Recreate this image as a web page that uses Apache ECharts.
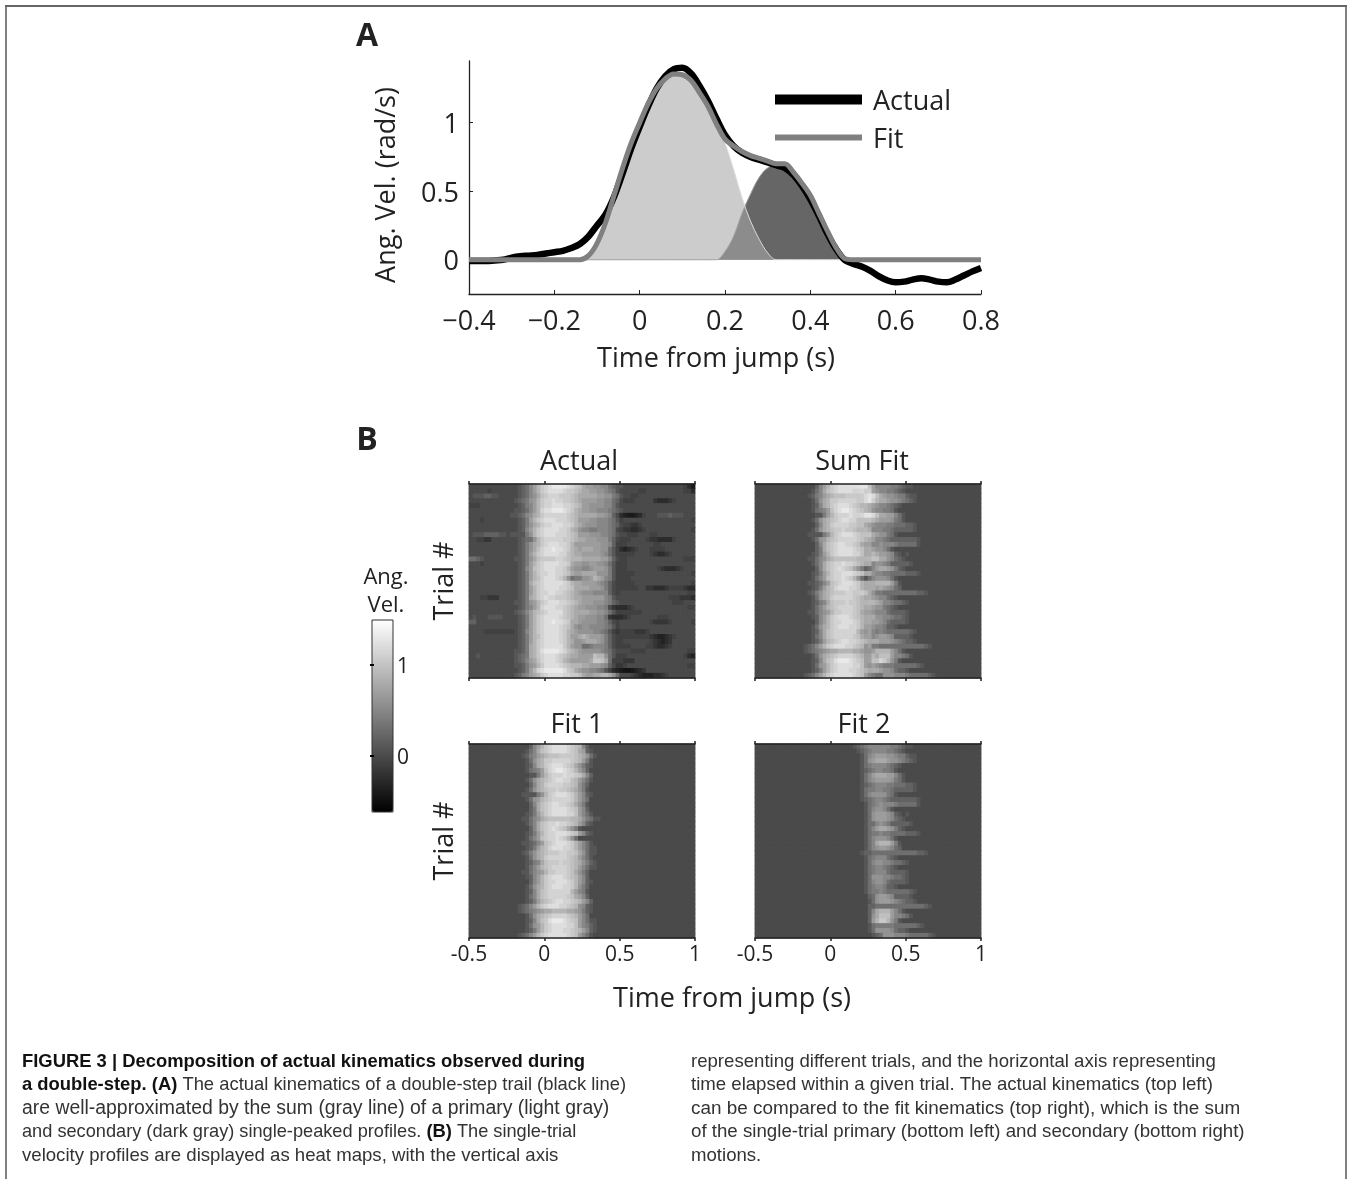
<!DOCTYPE html>
<html><head><meta charset="utf-8">
<style>html,body{margin:0;padding:0;background:#fff}#c{width:1348px;height:1179px}</style>
<script src="https://cdn.jsdelivr.net/npm/echarts@6/dist/echarts.min.js"></script>
</head><body><div id="c"></div>
<script>
const timePoints=[-0.40,-0.38,-0.36,-0.34,-0.32,-0.30,-0.28,-0.26,-0.24,-0.22,-0.20,-0.18,-0.16,-0.14,-0.12,-0.10,-0.08,-0.06,-0.04,-0.02,0,0.02,0.04,0.06,0.08,0.10,0.12,0.14,0.16,0.18,0.20,0.22,0.24,0.26,0.28,0.30,0.32,0.34,0.36,0.38,0.40,0.42,0.44,0.46,0.48,0.50,0.52,0.54,0.56,0.58,0.60,0.62,0.64,0.66,0.68,0.70,0.72,0.74,0.76,0.78,0.80];
const actualCurve=[-0.01,-0.01,-0.01,-0.005,0,0.015,0.025,0.03,0.035,0.045,0.055,0.065,0.085,0.115,0.17,0.25,0.33,0.46,0.63,0.81,0.97,1.12,1.25,1.34,1.39,1.40,1.36,1.27,1.16,1.03,0.91,0.83,0.78,0.75,0.73,0.71,0.69,0.67,0.62,0.54,0.44,0.32,0.19,0.08,0,-0.03,-0.05,-0.08,-0.12,-0.15,-0.165,-0.16,-0.145,-0.135,-0.145,-0.16,-0.165,-0.145,-0.115,-0.085,-0.06];
const fitCurve=[0,0,0,0,0,0,0,0,0,0,0,0,0,0,0.03,0.12,0.27,0.47,0.67,0.85,1.0,1.14,1.25,1.32,1.355,1.35,1.31,1.22,1.12,0.99,0.88,0.83,0.79,0.76,0.74,0.72,0.70,0.70,0.64,0.56,0.47,0.34,0.21,0.09,0.01,0,0,0,0,0,0,0,0,0,0,0,0,0,0,0,0];
const primaryCurve=[0,0,0,0,0,0,0,0,0,0,0,0,0,0,0.03,0.12,0.27,0.47,0.67,0.85,1.0,1.14,1.25,1.32,1.355,1.35,1.31,1.22,1.12,0.99,0.85,0.66,0.45,0.28,0.15,0.05,0,0,0,0,0,0,0,0,0,0,0,0,0,0,0,0,0,0,0,0,0,0,0,0,0];
const secondaryCurve=[0,0,0,0,0,0,0,0,0,0,0,0,0,0,0,0,0,0,0,0,0,0,0,0,0,0,0,0,0,0,0.06,0.17,0.34,0.48,0.60,0.67,0.69,0.695,0.64,0.56,0.47,0.34,0.21,0.09,0.01,0,0,0,0,0,0,0,0,0,0,0,0,0,0,0,0];
const heatBins=['-0.5','-0.475','-0.45','-0.425','-0.4','-0.375','-0.35','-0.325','-0.3','-0.275','-0.25','-0.225','-0.2','-0.175','-0.15','-0.125','-0.1','-0.075','-0.05','-0.025','0','0.025','0.05','0.075','0.1','0.125','0.15','0.175','0.2','0.225','0.25','0.275','0.3','0.325','0.35','0.375','0.4','0.425','0.45','0.475','0.5','0.525','0.55','0.575','0.6','0.625','0.65','0.675','0.7','0.725','0.75','0.775','0.8','0.825','0.85','0.875','0.9','0.925','0.95','0.975'];
const levelCodes='0123456789abcdefghijk';
const levelValues=[-0.45,-0.4,-0.33,-0.25,-0.17,-0.08,0,0.1,0.2,0.3,0.4,0.5,0.6,0.68,0.78,0.88,0.97,1.05,1.13,1.22,1.32];
const actualRows=[
"6666666666 666789bdfh ijkkkkjihg eddccbb987 7666666666 6666666531",
"6666656666 666789bdfh ijjjjihhgf eeddccba97 6666655666 6666666553",
"6777887766 666789bceg hiiihhhgfe eeeeddcca9 7665566666 6666666666",
"6666666666 66789acdfh iijiihhgfe ddddccbb98 6555666664 3334566666",
"5556666666 66678abdfh iijjjiihgf ddccccbb97 6666666666 6666666666",
"6666666666 667789bdfi jjkkkjihfe ddccbbba98 7666666666 6666666666",
"6666666666 67789bcefh iiiiiihgfe eeeeddcb86 3211235666 7778777666",
"6665666666 66678adfhi jjjiiihgfd ddccbbba97 5666666666 6666666665",
"6666666666 66678acefh iijjjiihfe dcccbbba98 6554456666 6666666666",
"6666666666 66678bdfhi jjjjiihfec bbaabbba96 5443345666 6666666665",
"6777888877 67777acfhi jjjiiihgfd ddcccbba97 6655566655 6666666666",
"6655446666 6667899cfh iiiiihhgfe edddccca86 5556666544 3333566666",
"6666666666 66678acefh ijjjiihfdd dddddccb85 5566666665 5666666666",
"6666666666 66678acegi jjkjjihfed eeeddcc975 3234566655 5566666666",
"6666666666 66678adfhi jjjjiigfee dddddcb975 5555666654 3345666666",
"9987666666 66778acegh hhhiihgfff eeeeeddb86 5566666666 6666666555",
"6665666666 66678adfhi jjjjiihedd ccddccb975 5566666666 6666666666",
"6666666666 66678bdghi jjjiihfdcc bbcdddca75 5566666666 5433345666",
"6666666666 66678adfhi ijjiihgedd eeeeccca75 5555666666 6666666665",
"6666666666 66678adfgi jjjihfc9aa ccdfedba75 5556666666 6666666666",
"6666666666 66678aeghi jjjjjihfee ddddcba865 5555666666 6666666665",
"6666666666 66678adfhi jjjjiihgee eedddca865 5555566443 3345555433",
"6666666666 66678adfhi ijjiihgfed cccbbbb865 6666666666 6666666655",
"6665544466 66678aefhi jiihhhgfee ddddddba76 6666666666 6665554443",
"6666666666 66778acdfh ijjjiihgfe dddcccba87 6666666666 6666555666",
"6666666666 66678abdfi jjjiihgfed dcccbba643 3345666666 6666666655",
"6666666666 66789bdfgh ijjjjhgfee eeddccb975 5555556666 6666666666",
"6766677776 66678adfhi jjjjihgfed dcccbb9433 3456666666 5556666666",
"8866666666 66678adfhi jjkjjiheed ccccbba865 6666666654 4445666665",
"6666666666 66678adfhi jjjjihgecb ccbbbba975 6666666666 6666666666",
"6666555555 55678bdfhi jjjjihfedc cccbba9754 5555444566 6666666666",
"6666666666 66678adfgi jjjjihfdde fedddca865 5555555543 2234566666",
"6666666666 66678adfhi jjjjihfecc deeedca865 5666666654 3234666666",
"6666666666 66678aefhi jjjjjhfdcc 99abbba865 5556666554 3345666666",
"6666666666 66778aefhj kkkkjigfed cccccba976 6665555666 6666666655",
"6676666666 66789aefhi jjjihgfeed dddgffc975 5566666666 6666666532",
"6666666666 66789bdegi jjjihfeddd ddehhge955 5444666666 6666666666",
"6666666666 66778acdfh jjjjihgfff eedddcb864 4566666666 6666666655",
"6666666666 66678adfij kkkkkjhged ccbba97532 1001234666 6666666666",
"6666666666 6678abdefh ijjjjiihhg eddeeffec9 6665432223 3456666666"
];
const fit1Start=12;
const fit1Rows=["66668bdfhijjjjihgfb8666","66679beghijjjjihged8766","6678abdefggghhhhgfec976","66679cefhhiiiiihgfda766","66678befhijjjihgeca8766","66679abdgijkkjihfdb8666","666677adfhiiijiihgeb866","66679cefghijjiigfdb9766","66668befhiiiihhgfca8666","66679cefghhihhgfeca7666","667777acfhijjjihfdb8766","66679cdfghiiiiihfdb9666","66668beghijjiihgeca7666","66668aeghijjjjihgdb8666","66678adfhijjjjiigdb9766","66779bcefggggggffeca977","66679beghiijiihgfdb8766","66668beghijihgeca766666","66678adfhiijjjihgdb8766","66679bdghiijihfc9666666","667789bdghijjjihfdb9766","66678adfgijjjiihfdb9776","6678acefghhhiihhgec9776","66679cefhiiiiihgfdb9766","66678abeghhhihhgfeca876","66679bdfghiiiihgfdb9776","66779bcdfhhiiihgeca8666","66678bdfhijjjihgfdb8666","66668bdfhiijjjihfdb8766","66679cefhijjjiihfca8666","66678beghiiiiiifdba7666","66679beghiiiiihgedb8666","66678adfghijjiihgfdb866","6789bdfhijjjiihgfcb8766","6789abcdeeffffeedca8766","66679cefghiiiihgfdb9666","66678beghjkkkjihgdb9776","66679cdfhijjjjiigdba876","66678adfhijjjiihgfdb876","6789bdfhijjjjjihgdb9766"];
const fit2Start=25;
const fit2Rows=[
"6789 abbb bbba a987 7666 6666 666","6678 9abb bbaa 9876 6666 6666 666","6667 9bcd ddcc baa8 7766 6666 666","6667 9cde eedc cba9 8766 6666 666","6667 9abb bba9 8766 6666 6666 666",
"6667 89ab baa9 7666 6666 6666 666","6667 9bde eedd b976 6666 6666 666","6667 9bcd dddc a976 6666 6666 666","6667 89ab bbaa 9998 8766 6666 666","6667 9aab baa9 8888 8766 6666 666",
"6667 9bcc cca9 7666 6666 6666 666","6667 89ab ba98 8888 8876 6666 666","6666 79ab cbbb a999 9976 6666 666","6666 79bc cb97 6666 6666 6666 666","6666 79cd ddcb 8767 6666 6666 666",
"6666 79cd ddcb 9876 6666 6666 666","6666 799b cba8 8888 7666 6666 666","6666 79bd eedc a876 6666 6666 666","6666 79aa baa9 9998 8876 6666 666","6666 79bc ccb9 7666 6666 6666 666",
"6666 79be fffd a766 6666 6666 666","6666 79bc ddcb 9866 6666 6666 666","6667 8899 9999 9999 9988 7666 666","6666 79ab bb98 7666 6666 6666 666","6666 79bc cbba 9987 6666 6666 666",
"6666 79ab ba98 7666 6666 6666 666","6666 79ab bb98 8887 6666 6666 666","6666 79cc cbba 9987 6666 6666 666","6666 79bc cb98 8887 6666 6666 666","6666 79ab ba88 7666 6666 6666 666",
"6666 79aa ba99 9999 8766 6666 666","6666 689c ddcb 8888 7666 6666 666","6666 679c dddc ba98 8766 6666 666","6666 6889 9999 9999 9999 8766 666","6666 68be fffd b976 6666 6666 666",
"6666 68ce gggd bba9 7666 6666 666","6666 68df hhfc a766 6666 6666 666","6666 679a aaaa 9999 9987 6666 666","6666 679c cccb 9887 6666 6666 666","6666 6678 9ccc bbba 9999 9876 666"];

function decode(s){return Array.from(s.replace(/\s+/g,'')).map(c=>levelValues[levelCodes.indexOf(c)]);}
function expand(rows,start){return rows.map(r=>{const out=new Array(heatBins.length).fill(0);decode(r).forEach((v,i)=>{if(start+i<out.length)out[start+i]=v;});return out;});}
const actualGrid=expand(actualRows,0);
const fit1Grid=expand(fit1Rows,fit1Start);
const fit2Grid=expand(fit2Rows,fit2Start);
const sumGrid=fit1Grid.map((r,i)=>r.map((v,j)=>+(v+fit2Grid[i][j]).toFixed(2)));
const trialLabels=actualRows.map((_,i)=>String(i+1));
function cells(g){const o=[];g.forEach((r,y)=>r.forEach((v,x)=>o.push([x,y,v])));return o;}

const FONT='"Open Sans"';
const INK='#222';
const panels=[{l:469,t:484,n:'Actual',g:actualGrid,lab:false,tr:true},{l:755,t:484,n:'Sum Fit',g:sumGrid,lab:false,tr:false},{l:469,t:744,n:'Fit 1',g:fit1Grid,lab:true,tr:true},{l:755,t:744,n:'Fit 2',g:fit2Grid,lab:true,tr:false}];
const PW=226,PH=194;
const grid=[{left:469,top:61,width:512,height:233}];
const xAxis=[{gridIndex:0,type:'value',min:-0.4,max:0.8,interval:0.2,splitLine:{show:false},
 axisLine:{onZero:false,lineStyle:{color:INK,width:1.3}},axisTick:{inside:true,length:4,lineStyle:{color:INK}},
 axisLabel:{margin:15,color:INK,fontFamily:FONT,fontSize:27,showMinLabel:true,showMaxLabel:true,formatter:v=>String(+v.toFixed(1)).replace('-','\u2212')},
 name:'Time from jump (s)',nameLocation:'middle',nameGap:52,nameTextStyle:{color:INK,fontFamily:FONT,fontSize:27,padding:[0,18,0,0]}}];
const yAxis=[{gridIndex:0,type:'value',min:-0.25,max:1.45,splitLine:{show:false},
 axisLine:{show:true,onZero:false,lineStyle:{color:INK,width:1.3}},axisTick:{show:true,inside:true,length:4,customValues:[0,0.5,1],lineStyle:{color:INK}},
 axisLabel:{margin:10,color:INK,fontFamily:FONT,fontSize:27,verticalAlign:'top',lineHeight:6,customValues:[0,0.5,1],formatter:v=>String(v)},
 name:'Ang. Vel. (rad/s)',nameLocation:'middle',nameGap:68,nameTextStyle:{color:INK,fontFamily:FONT,fontSize:27,padding:[0,15,0,0]}}];
const series=[
 {name:'Secondary',type:'line',xAxisIndex:0,yAxisIndex:0,showSymbol:false,smooth:0.35,z:1,data:timePoints.map((t,i)=>[t,secondaryCurve[i]]),lineStyle:{color:'#999',width:1},itemStyle:{color:'#666'},areaStyle:{color:'#666666',opacity:1}},
 {name:'Primary',type:'line',xAxisIndex:0,yAxisIndex:0,showSymbol:false,smooth:0.35,z:2,data:timePoints.map((t,i)=>[t,primaryCurve[i]]),lineStyle:{color:'#dcdcdc',width:1},itemStyle:{color:'#ccc'},areaStyle:{color:'#a7a7a7',opacity:0.58}},
 {name:'Actual',type:'line',xAxisIndex:0,yAxisIndex:0,showSymbol:false,smooth:0.35,z:3,data:timePoints.map((t,i)=>[t,actualCurve[i]]),lineStyle:{color:'#000',width:6.5},itemStyle:{color:'#000'}},
 {name:'Fit',type:'line',xAxisIndex:0,yAxisIndex:0,showSymbol:false,smooth:0.35,z:4,data:timePoints.map((t,i)=>[t,fitCurve[i]]),lineStyle:{color:'#808080',width:5},itemStyle:{color:'#808080'}}
];
const heatSeriesIdx=[];
panels.forEach((p,i)=>{
 grid.push({left:p.l,top:p.t,width:PW,height:PH});
 xAxis.push({gridIndex:i+1,type:'category',data:heatBins,show:false});
 yAxis.push({gridIndex:i+1,type:'category',data:trialLabels,inverse:true,show:false});
 // second pass closes the hairline seams that fractional cell edges leave on the canvas
 [0,1].forEach(()=>{
  heatSeriesIdx.push(series.length);
  series.push({name:p.n,type:'heatmap',xAxisIndex:i+1,yAxisIndex:i+1,data:cells(p.g),progressive:0,emphasis:{disabled:true}});
 });
});
panels.forEach((p,i)=>{
 grid.push({left:p.l,top:p.t,width:PW,height:PH,z:3});
 const gi=5+i;
 xAxis.push({gridIndex:gi,type:'value',position:'bottom',min:-0.5,max:1,interval:0.5,z:5,splitLine:{show:false},
  axisLine:{onZero:false,lineStyle:{color:INK,width:1.5}},axisTick:{length:3,lineStyle:{color:INK,width:1.5}},
  axisLabel:{show:p.lab,margin:7,color:INK,fontFamily:FONT,fontSize:21,showMinLabel:true,showMaxLabel:true,formatter:v=>String(v)}});
 yAxis.push({gridIndex:gi,type:'value',min:0,max:1,show:p.tr,axisLine:{show:false},axisTick:{show:false},axisLabel:{show:false},splitLine:{show:false},
  name:p.tr?'Trial #':'',nameLocation:'middle',nameGap:10,nameTextStyle:{color:INK,fontFamily:FONT,fontSize:27}});
});
panels.forEach((p,i)=>{
 xAxis.push({gridIndex:5+i,type:'value',position:'top',min:-0.5,max:1,interval:0.5,z:5,splitLine:{show:false},
  axisLine:{onZero:false,lineStyle:{color:INK,width:1.5}},axisTick:{length:3,lineStyle:{color:INK,width:1.5}},axisLabel:{show:false}});
});
const cbMin=-0.615,cbMax=1.495;
grid.push({left:372,top:620,width:21,height:192,z:6,show:true,borderColor:'#333',borderWidth:1,backgroundColor:'transparent'});
xAxis.push({gridIndex:9,type:'value',min:0,max:1,show:false,z:7});
const cbTicks=[0,1];
yAxis.push({gridIndex:9,type:'value',position:'right',min:cbMin,max:cbMax,z:7,splitLine:{show:false},axisLine:{show:false},
 axisTick:{show:true,inside:true,length:2,customValues:cbTicks,lineStyle:{color:'#000',width:2}},
 axisLabel:{margin:4,color:INK,fontFamily:FONT,fontSize:21,verticalAlign:'top',lineHeight:4,customValues:cbTicks,formatter:v=>String(v)}});
yAxis.push({gridIndex:9,type:'value',position:'left',min:cbMin,max:cbMax,z:7,splitLine:{show:false},axisLine:{show:false},
 axisTick:{show:true,inside:true,length:2,customValues:cbTicks,lineStyle:{color:'#000',width:2}},axisLabel:{show:false}});

const txt=(text,x,y,size,weight)=>({text,left:x,top:y,padding:0,textAlign:'center',textVerticalAlign:'middle',textStyle:{color:INK,fontFamily:FONT,fontSize:size,fontWeight:weight||'normal'}});
const title=[txt('A',367,37,32,'bold'),txt('B',367,441,32,'bold'),txt('Actual',579,462,27),txt('Sum Fit',862,462,27),txt('Fit 1',577,725,27),txt('Fit 2',864,725,27),txt('Time from jump (s)',732,999,27),txt('Ang.',386,578,22),txt('Vel.',386,606,22)];

const captionLeft=[
 {t:'{b|FIGURE 3 | Decomposition of actual kinematics observed during}',s:18.6},
 {t:'{b|a double-step. (A)} The actual kinematics of a double-step trail (black line)',s:18.4},
 {t:'are well-approximated by the sum (gray line) of a primary (light gray)',s:19.4},
 {t:'and secondary (dark gray) single-peaked profiles. {b|(B)} The single-trial',s:18.2},
 {t:'velocity profiles are displayed as heat maps, with the vertical axis',s:18.6}];
const captionRight=[
 {t:'representing different trials, and the horizontal axis representing',s:18.6},
 {t:'time elapsed within a given trial. The actual kinematics (top left)',s:18.6},
 {t:'can be compared to the fit kinematics (top right), which is the sum',s:18.9},
 {t:'of the single-trial primary (bottom left) and secondary (bottom right)',s:18.7},
 {t:'motions.',s:18.6}];
const lineYs=[1062,1085,1109,1132,1156];
const capStyle=c=>({text:c.t,fontFamily:'"Liberation Sans"',fontSize:c.s,fill:'#333',verticalAlign:'middle',rich:{b:{fontFamily:'"Liberation Sans"',fontSize:18.4,fontWeight:'bold',fill:'#111'}}});
const graphic=[
 {type:'polyline',silent:true,shape:{points:[[6,1179],[6,7]]},style:{stroke:'#808080',lineWidth:2,fill:null}},
 {type:'polyline',silent:true,shape:{points:[[1346,7],[1346,1179]]},style:{stroke:'#808080',lineWidth:2,fill:null}},
 {type:'polyline',silent:true,shape:{points:[[5,6],[1347,6]]},style:{stroke:'#333',lineWidth:1.5,fill:null}}
];
captionLeft.forEach((c,i)=>graphic.push({type:'text',x:22,y:lineYs[i],silent:true,style:capStyle(c)}));
captionRight.forEach((c,i)=>graphic.push({type:'text',x:691,y:lineYs[i],silent:true,style:capStyle(c)}));

const chart=echarts.init(document.getElementById('c'),null,{renderer:'canvas'});
chart.setOption({animation:false,backgroundColor:'#fff',grid,xAxis,yAxis,series,title,graphic,
 legend:{show:true,left:770,top:84,orient:'vertical',itemWidth:87,itemHeight:10,itemGap:11,data:[{name:'Actual',icon:'rect'},{name:'Fit',icon:'path://M0 0L87 0L87 0ZM0 2H87V8H0ZM0 10L87 10L87 10Z'}],
  formatter:'{a|{name}}',textStyle:{color:INK,fontFamily:FONT,fontSize:27,rich:{a:{color:INK,fontFamily:FONT,fontSize:27,padding:[6,0,0,6]}}},selectedMode:false},
 visualMap:{type:'continuous',seriesIndex:heatSeriesIdx,dimension:2,min:cbMin,max:cbMax,calculable:false,left:372,top:620,itemWidth:21,itemHeight:192,inRange:{color:['#000000','#ffffff']},text:null,showLabel:false,padding:0,borderWidth:0,hoverLink:false}
});
</script></body></html>
